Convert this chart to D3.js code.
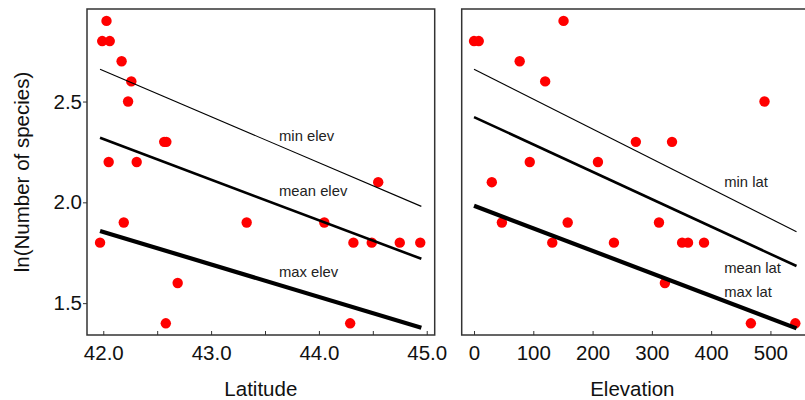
<!DOCTYPE html>
<html>
<head>
<meta charset="utf-8">
<script src="https://cdn.jsdelivr.net/npm/d3@7"></script>
<style>
  body { margin: 0; background: #fff; }
  svg { display: block; font-family: "Liberation Sans", Arial, sans-serif; }
</style>
</head>
<body>
<svg id="chart" width="805" height="400"></svg>
<script>
// ln(number of species) for each site, with its latitude and elevation
const species = [2.9, 2.8, 2.8, 2.7, 2.6, 2.5, 2.3, 2.3, 2.2, 2.2, 2.1, 1.9, 1.9, 1.9, 1.8, 1.8, 1.8, 1.8, 1.8, 1.6, 1.4, 1.4];
const latitude = [42.03, 41.99, 42.06, 42.17, 42.26, 42.23, 42.565, 42.585, 42.05, 42.31, 44.55, 42.19, 43.33, 44.05, 41.97, 44.32, 44.49, 44.75, 44.94, 42.69, 42.58, 44.29];
const elevation = [151, 0, 8, 77, 120, 490, 273, 334, 94, 209, 30, 47, 158, 312, 132, 236, 351, 361, 388, 322, 467, 542];

// fitted lines: [x0, y0, x1, y1]
const latFitNames = ["min elev", "mean elev", "max elev"];
const latFits = [[41.97, 2.66, 44.95, 1.98], [41.97, 2.32, 44.95, 1.72], [41.97, 1.858, 44.95, 1.378]];
const latLabelPos = [[43.63, 2.33], [43.63, 2.056], [43.63, 1.654]];

const elevFitNames = ["min lat", "mean lat", "max lat"];
const elevFits = [[0, 2.66, 544, 1.854], [0, 2.423, 544, 1.684], [0, 1.983, 544, 1.375]];
const elevLabelPos = [[422, 2.102], [422, 1.676], [422, 1.557]];

const latTicks = [42, 42.5, 43, 43.5, 44, 44.5, 45];
const elevTicks = [0, 100, 200, 300, 400, 500];
const yTicks = [1.5, 2.0, 2.5];

const lineWidths = [1.1, 2.6, 4.2];

const svg = d3.select("#chart");
const plotTop = 9, plotBottom = 335;

const y = d3.scaleLinear().domain([1.342, 2.959]).range([plotBottom, plotTop]);
const xLat = d3.scaleLinear().domain([41.849, 45.074]).range([87, 434.7]);
const xElev = d3.scaleLinear().domain([-20.8, 560]).range([461.7, 806]);

function panel(x, xs, names, fits, labelPos, ticks, tickFmt, title, showY) {
  const g = svg.append("g");
  const [x0, x1] = x.range();

  // points
  g.selectAll("circle")
    .data(xs.map((v, i) => [v, species[i]]))
    .join("circle")
    .attr("cx", (d) => x(d[0]))
    .attr("cy", (d) => y(d[1]))
    .attr("r", 5.2)
    .attr("fill", "#ff0000");

  // fit lines
  g.selectAll("line.fit")
    .data(fits)
    .join("line")
    .attr("class", "fit")
    .attr("x1", (d) => x(d[0]))
    .attr("y1", (d) => y(d[1]))
    .attr("x2", (d) => x(d[2]))
    .attr("y2", (d) => y(d[3]))
    .attr("stroke", "#000")
    .attr("stroke-width", (d, i) => lineWidths[i]);

  g.selectAll("text.lbl")
    .data(names)
    .join("text")
    .attr("class", "lbl")
    .attr("x", (d, i) => x(labelPos[i][0]))
    .attr("y", (d, i) => y(labelPos[i][1]))
    .attr("dy", "0.35em")
    .attr("font-size", 14.8)
    .attr("fill", "#222")
    .text((d) => d);

  // frame
  g.append("rect")
    .attr("x", x0)
    .attr("y", plotTop)
    .attr("width", x1 - x0)
    .attr("height", plotBottom - plotTop)
    .attr("fill", "none")
    .attr("stroke", "#333")
    .attr("stroke-width", 1.5);

  // x axis (ticks pointing inwards)
  const xAxis = g.append("g")
    .attr("transform", `translate(0,${plotBottom})`)
    .call(d3.axisBottom(x).tickValues(ticks).tickSizeInner(-4).tickSizeOuter(0)
      .tickFormat(tickFmt));
  xAxis.select(".domain").remove();
  xAxis.selectAll("line").attr("stroke", "#333");
  xAxis.selectAll("text")
    .attr("font-size", 20.5)
    .attr("fill", "#111")
    .attr("y", 10)
    .attr("dy", "0.71em");

  g.append("text")
    .attr("x", (x0 + Math.min(x1, 803)) / 2)
    .attr("y", 396)
    .attr("text-anchor", "middle")
    .attr("font-size", 20.5)
    .attr("fill", "#111")
    .text(title);

  if (showY) {
    const yAxis = g.append("g")
      .attr("transform", `translate(${x0},0)`)
      .call(d3.axisLeft(y).tickValues(yTicks).tickSize(4).tickFormat(d3.format(".1f")));
    yAxis.select(".domain").remove();
    yAxis.selectAll("line").attr("stroke", "#333");
    yAxis.selectAll("text")
      .attr("font-size", 20.5)
      .attr("fill", "#111")
      .attr("x", -5);
  }
}

panel(xLat, latitude, latFitNames, latFits, latLabelPos, latTicks,
  (d) => (Number.isInteger(d) ? d3.format(".1f")(d) : ""), "Latitude", true);
panel(xElev, elevation, elevFitNames, elevFits, elevLabelPos, elevTicks,
  d3.format("d"), "Elevation", false);

svg.append("text")
  .attr("transform", `translate(29,${(plotTop + plotBottom) / 2}) rotate(-90)`)
  .attr("text-anchor", "middle")
  .attr("font-size", 20.5)
  .attr("fill", "#111")
  .text("ln(Number of species)");
</script>
</body>
</html>
